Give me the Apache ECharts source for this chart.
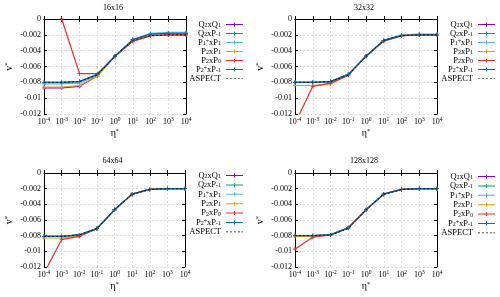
<!DOCTYPE html>
<html>
<head>
<meta charset="utf-8">
<script src="https://cdn.jsdelivr.net/npm/echarts@6/dist/echarts.min.js"></script>
<style>
html,body{margin:0;padding:0;background:#fff;}
#chart{width:500px;height:297px;}
</style>
</head>
<body>
<div id="chart"></div>
<script>
// ---- data ----
const etaValues = [1e-4, 1e-3, 1e-2, 1e-1, 1, 10, 100, 1e3, 1e4];
const seriesNames = ['Q2xQ1', 'Q2xP-1', 'P1+xP1', 'P2xP1', 'P2xP0', 'P2+xP-1', 'ASPECT'];
const legendLabels = [
  '{n|Q}{s|2}{n|xQ}{s|1}',
  '{n|Q}{s|2}{n|xP}{s|-1}',
  '{n|P}{s|1}{p|+}{n|xP}{s|1}',
  '{n|P}{s|2}{n|xP}{s|1}',
  '{n|P}{s|2}{n|xP}{s|0}',
  '{n|P}{s|2}{p|+}{n|xP}{s|-1}',
  '{n|ASPECT}'
];
const panelTitles = ['16x16', '32x32', '64x64', '128x128'];
const yTickMin = -0.012, yTickMax = 0, yTickStep = 0.002;

// rows follow seriesNames order
const panel16 = [
  [-0.0087, -0.0087, -0.0085, -0.0072, -0.0047, -0.0028, -0.0021, -0.0020, -0.0020],
  [-0.0080, -0.0080, -0.0079, -0.0070, -0.0047, -0.0026, -0.0019, -0.0018, -0.0018],
  [-0.0082, -0.0082, -0.0081, -0.0071, -0.0047, -0.0026, -0.0018, -0.0017, -0.0017],
  [-0.0086, -0.0086, -0.0084, -0.0072, -0.0047, -0.0028, -0.0021, -0.0020, -0.0020],
  [0.0020, 0.0000, -0.0069, -0.0069, -0.0047, -0.0028, -0.0021, -0.0020, -0.0020],
  [-0.0080, -0.0080, -0.0079, -0.0070, -0.0047, -0.0026, -0.0019, -0.0018, -0.0018],
  [-0.0080, -0.0080, -0.0079, -0.0071, -0.0047, -0.0027, -0.0021, -0.0020, -0.0020]
];
const panel32 = [
  [-0.0080, -0.0080, -0.0079, -0.0070, -0.0047, -0.0027, -0.0021, -0.0020, -0.0020],
  [-0.0080, -0.0080, -0.0079, -0.0070, -0.0047, -0.0027, -0.0021, -0.0020, -0.0020],
  [-0.0080, -0.0080, -0.0079, -0.0070, -0.0047, -0.0027, -0.0020, -0.0019, -0.0019],
  [-0.0084, -0.0084, -0.0082, -0.0071, -0.0047, -0.0028, -0.0021, -0.0020, -0.0020],
  [-0.0132, -0.0085, -0.0081, -0.0071, -0.0047, -0.0028, -0.0021, -0.0020, -0.0020],
  [-0.0080, -0.0080, -0.0079, -0.0070, -0.0047, -0.0027, -0.0021, -0.0020, -0.0020],
  [-0.0080, -0.0080, -0.0079, -0.0071, -0.0047, -0.0027, -0.0021, -0.0020, -0.0020]
];
const panel64 = [
  [-0.0081, -0.0081, -0.0079, -0.0071, -0.0047, -0.0027, -0.0021, -0.0020, -0.0020],
  [-0.0081, -0.0081, -0.0079, -0.0071, -0.0047, -0.0027, -0.0021, -0.0020, -0.0020],
  [-0.0081, -0.0081, -0.0079, -0.0071, -0.0047, -0.0027, -0.0021, -0.0020, -0.0020],
  [-0.0083, -0.0083, -0.0080, -0.0071, -0.0047, -0.0027, -0.0021, -0.0020, -0.0020],
  [-0.0128, -0.0085, -0.0081, -0.0071, -0.0047, -0.0027, -0.0021, -0.0020, -0.0020],
  [-0.0081, -0.0081, -0.0079, -0.0071, -0.0047, -0.0027, -0.0021, -0.0020, -0.0020],
  [-0.0081, -0.0081, -0.0079, -0.0071, -0.0047, -0.0027, -0.0021, -0.0020, -0.0020]
];
const panel128 = [
  [-0.0080, -0.0080, -0.0079, -0.0070, -0.0047, -0.0027, -0.0021, -0.0020, -0.0020],
  [-0.0080, -0.0080, -0.0079, -0.0070, -0.0047, -0.0027, -0.0021, -0.0020, -0.0020],
  [-0.0080, -0.0080, -0.0079, -0.0070, -0.0047, -0.0027, -0.0021, -0.0020, -0.0020],
  [-0.0081, -0.0081, -0.0079, -0.0070, -0.0047, -0.0027, -0.0021, -0.0020, -0.0020],
  [-0.0097, -0.0082, -0.0079, -0.0070, -0.0047, -0.0027, -0.0021, -0.0020, -0.0020],
  [-0.0080, -0.0080, -0.0079, -0.0070, -0.0047, -0.0027, -0.0021, -0.0020, -0.0020],
  [-0.0080, -0.0080, -0.0079, -0.0071, -0.0047, -0.0027, -0.0021, -0.0020, -0.0020]
];
const panels = [panel16, panel32, panel64, panel128];

// ---- styles / layout ----
const colors = ['#9400d3', '#009e73', '#56b4e9', '#e69f00', '#f02828', '#0072b2', '#000000'];
const FONT = '"Liberation Serif", "DejaVu Serif", serif';
const grids = [
  {left: 44, top: 19, width: 142, height: 95},
  {left: 295, top: 19, width: 142, height: 95},
  {left: 44, top: 173, width: 141, height: 94},
  {left: 295, top: 173, width: 142, height: 94}
];
const legendPos = [
  {right: 257, top: 20, gap: 0},
  {right: 5, top: 20, gap: 0},
  {right: 257, top: 171, gap: 0.4},
  {right: 5, top: 172, gap: 0.4}
];
const plusSymbol = 'path://M4,0H6V4H10V6H6V10H4V6H0V4H4Z';
const lineIcon = 'path://M0,0H0.01V0.01H0Z M16.99,7.99H17V8H16.99Z M0,3.5H17V4.5H0Z M8,2H9V6H8Z';
const dashIcon = 'path://M0,0H0.01V0.01H0Z M16.99,7.99H17V8H16.99Z M0,3.7H2V4.3H0Z M4,3.7H6V4.3H4Z M8,3.7H10V4.3H8Z M12,3.7H14V4.3H12Z M15.5,3.7H17V4.3H15.5Z';

const chart = echarts.init(document.getElementById('chart'), null, {renderer: 'canvas'});

const option = {
  animation: false,
  backgroundColor: '#fff',
  textStyle: {fontFamily: FONT},
  title: [], grid: [], xAxis: [], yAxis: [], legend: [], series: []
};

const supRich = {
  b: {fontSize: 8, fontFamily: FONT, color: '#000', lineHeight: 10},
  e: {fontSize: 5.5, fontFamily: FONT, color: '#000', lineHeight: 3, verticalAlign: 'top'}
};
const nameRich = {
  b: {fontSize: 10, fontFamily: FONT, color: '#000', lineHeight: 11},
  e: {fontSize: 6.5, fontFamily: FONT, color: '#000', lineHeight: 4, verticalAlign: 'top'}
};

grids.forEach((g, gi) => {
  option.grid.push({left: g.left, top: g.top, width: g.width, height: g.height, containLabel: false});
  option.title.push({
    text: panelTitles[gi], left: g.left + g.width / 2 - 2, top: gi < 2 ? 4 : 157,
    textAlign: 'center', padding: 0,
    textStyle: {fontFamily: FONT, fontSize: 8, fontWeight: 'normal', color: '#000'}
  });
  // main bottom x axis (log)
  option.xAxis.push({
    type: 'log', logBase: 10, min: etaValues[0], max: etaValues[etaValues.length - 1],
    gridIndex: gi, splitNumber: 8,
    name: '{b|η}{e|*}', nameLocation: 'middle', nameGap: 14,
    nameTextStyle: {rich: nameRich},
    axisLine: {show: true, lineStyle: {color: '#000', width: 1}},
    axisTick: {show: true, inside: true, length: 3, lineStyle: {color: '#000'}},
    axisLabel: {
      margin: 3,
      formatter: v => '{b|10}{e|' + Math.round(Math.log10(v)) + '}',
      rich: supRich
    },
    splitLine: {show: true, lineStyle: {color: '#dcdcdc', type: [2, 2], width: 1}}
  });
  // mirror top x axis
  option.xAxis.push({
    type: 'log', logBase: 10, min: etaValues[0], max: etaValues[etaValues.length - 1],
    gridIndex: gi, position: 'top', splitNumber: 8,
    axisLine: {show: true, lineStyle: {color: '#000', width: 1}},
    axisTick: {show: true, inside: true, length: 3, lineStyle: {color: '#000'}},
    axisLabel: {show: false}, splitLine: {show: false}
  });
  // main left y axis
  option.yAxis.push({
    type: 'value', min: yTickMin, max: yTickMax, interval: yTickStep, gridIndex: gi,
    name: '{b|v}{e|*}', nameLocation: 'middle', nameGap: 29, nameRotate: 90,
    nameTextStyle: {rich: nameRich},
    axisLine: {show: true, lineStyle: {color: '#000', width: 1}},
    axisTick: {show: true, inside: true, length: 3, lineStyle: {color: '#000'}},
    axisLabel: {
      margin: 3, fontSize: 8, color: '#000', fontFamily: FONT,
      formatter: v => String(Number(v.toFixed(4)))
    },
    splitLine: {show: true, lineStyle: {color: '#dcdcdc', type: [2, 2], width: 1}}
  });
  // mirror right y axis
  option.yAxis.push({
    type: 'value', min: yTickMin, max: yTickMax, interval: yTickStep, gridIndex: gi,
    position: 'right',
    axisLine: {show: true, lineStyle: {color: '#000', width: 1}},
    axisTick: {show: true, inside: true, length: 3, lineStyle: {color: '#000'}},
    axisLabel: {show: false}, splitLine: {show: false}
  });
  const lp = legendPos[gi];
  option.legend.push({
    orient: 'vertical', right: lp.right, top: lp.top, padding: 0,
    align: 'right', itemWidth: 17, itemHeight: 8, itemGap: lp.gap,
    symbolKeepAspect: false,
    data: seriesNames.map(n => ({name: n, icon: n === 'ASPECT' ? dashIcon : lineIcon})),
    formatter: name => legendLabels[seriesNames.indexOf(name)],
    textStyle: {
      color: '#000', fontFamily: FONT, fontSize: 8.5,
      rich: {
        n: {fontSize: 8.5, fontFamily: FONT, color: '#000', lineHeight: 8},
        s: {fontSize: 6, fontFamily: FONT, color: '#000', lineHeight: 2.5, verticalAlign: 'bottom'},
        p: {fontSize: 6, fontFamily: FONT, color: '#000', lineHeight: 2.5, verticalAlign: 'top'}
      }
    },
    selectedMode: false
  });
  const rows = panels[gi];
  rows.forEach((vals, si) => {
    const isRef = seriesNames[si] === 'ASPECT';
    option.series.push({
      type: 'line', name: seriesNames[si],
      xAxisIndex: gi * 2, yAxisIndex: gi * 2,
      data: etaValues.map((x, i) => [x, vals[i]]),
      color: colors[si],
      symbol: isRef ? 'none' : plusSymbol, symbolSize: 4, showSymbol: !isRef,
      lineStyle: {width: isRef ? 0.8 : 1.2, type: isRef ? [2, 2] : 'solid', color: colors[si]},
      itemStyle: {color: colors[si]},
      clip: true, z: 2 + si
    });
  });
});

chart.setOption(option);
</script>
</body>
</html>
